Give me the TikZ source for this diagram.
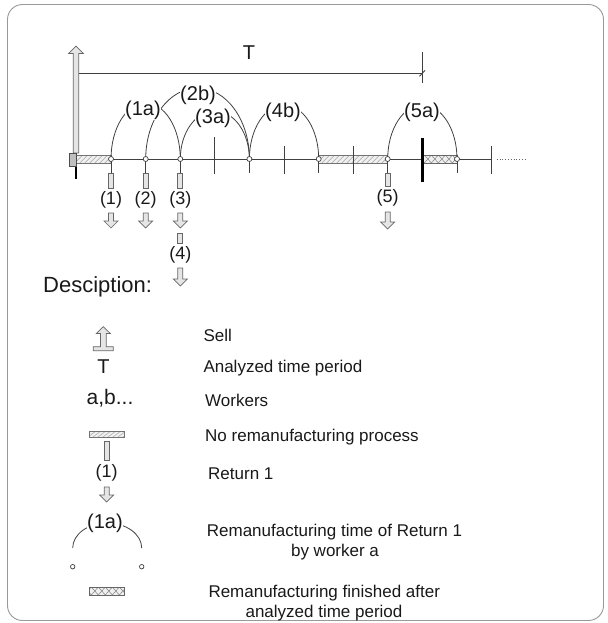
\documentclass[tikz,border=0pt]{standalone}
\usepackage{fontspec}
\setmainfont{Liberation Sans}
\newcommand\hatchbar[4]{%
  \fill[black!6] (#1,#2) rectangle (#3,#4);
  \begin{scope}\clip (#1,#2) rectangle (#3,#4);
    \foreach \k in {-12,-7,...,80} \draw[black!35,line width=0.5pt] ({#1+\k},#4) -- ++(8,{#2-#4});
  \end{scope}
  \draw[black!55,line width=0.6pt] (#1,#2) rectangle (#3,#4);}
\newcommand\xhatchbar[4]{%
  \fill[black!6] (#1,#2) rectangle (#3,#4);
  \begin{scope}\clip (#1,#2) rectangle (#3,#4);
    \foreach \k in {-12,-5,...,80} {\draw[black!50,line width=0.5pt] ({#1+\k},#4) -- ++(7,{#2-#4});
      \draw[black!50,line width=0.5pt] ({#1+\k},#2) -- ++(7,{#4-#2});}
  \end{scope}
  \draw[black!60,line width=0.6pt] (#1,#2) rectangle (#3,#4);}
\newcommand\hollowdown[3]{%
  \draw[hollow] ({#1-2.5},#2) -- ({#1+2.5},#2) -- ({#1+2.5},{#3-7}) -- ({#1+7},{#3-7}) -- (#1,#3) -- ({#1-7},{#3-7}) -- ({#1-2.5},{#3-7}) -- cycle;}
\newcommand\hollowshaft[3]{%
  \draw[hollow] ({#1-2.5},#2) rectangle ({#1+2.5},#3);}
\begin{document}
\begin{tikzpicture}[x=1pt,y=-1pt,
  hollow/.style={draw=black!60,fill=black!10,line width=0.7pt},
  tl/.style={draw=black!75,line width=0.8pt},
  arcline/.style={draw=black!75,line width=0.8pt},
  dot/.style={circle,draw=black!75,fill=white,inner sep=0pt,minimum size=5pt,line width=0.7pt},
  arclbl/.style={font=\fontsize{20}{24}\selectfont,fill=white,inner sep=0.3pt,text=black!90},
  retlbl/.style={font=\fontsize{18}{22}\selectfont,inner sep=0pt,text=black!90},
  lt/.style={font=\fontsize{17}{20}\selectfont,anchor=west,inner sep=0pt,text height=12.2pt,text depth=0pt,text=black!90},
  ltc/.style={lt,anchor=center}]
\useasboundingbox (0,0) rectangle (607,623);
% frame
\draw[black!40,line width=0.9pt,rounded corners=15pt] (7.5,4.5) rectangle (603.5,620.5);

% sell arrow (timeline)
\draw[hollow] (76,46) -- (83.3,53.5) -- (78.7,53.5) -- (78.7,153) -- (73.3,153) -- (73.3,53.5) -- (68.7,53.5) -- cycle;
% T dimension
\coordinate (tstart) at (78.7,73.3);
\coordinate (tend) at (422.3,73.3);
\draw[tl] (tstart) -- (tend);
\draw[tl] (422.3,51.7) -- (422.3,83.3);
\draw[tl] (419.5,76.3) -- (425.1,70.3);
\node[font=\fontsize{20}{24}\selectfont,text=black!90] (tlabel) at (249,53) {T};

% timeline
\draw[tl] (76.7,159) -- (491.3,159);
\draw[black!60,line width=0.8pt,dotted] (496.7,159) -- (525,159);
\hatchbar{76.7}{155}{111}{163}
\hatchbar{318.7}{155}{387.7}{163}
\xhatchbar{422.3}{155}{457}{163}
% box + black line
\draw[black!70,fill=black!25,line width=0.7pt] (69,153.3) rectangle (76.7,166.7);
\draw[black,line width=2pt] (76,166.7) -- (76,179.3);
% ticks
\draw[tl] (214.8,137) -- (214.8,174);
\foreach \x in {284.1,353.3,491.3} \draw[tl] (\x,146) -- (\x,174);
\foreach \x in {249.4,318.7,457} \draw[tl] (\x,159) -- (\x,173);
\foreach \x in {111,145.7,180.3,387.7} \draw[tl] (\x,159) -- (\x,173);
% end of T period
\draw[black,line width=2.5pt] (422.3,138) -- (422.3,181.7);

% arcs
\draw[arcline] (111,159) arc[start angle=180,end angle=360,x radius=34.65,y radius=56];
\draw[arcline] (145.7,159) arc[start angle=180,end angle=360,x radius=51.85,y radius=71];
\draw[arcline] (180.3,159) arc[start angle=180,end angle=360,x radius=34.55,y radius=48];
\draw[arcline] (249.4,159) arc[start angle=180,end angle=360,x radius=34.65,y radius=54];
\draw[arcline] (387.7,159) arc[start angle=180,end angle=360,x radius=34.65,y radius=54];
\node[arclbl] (l1a) at (143,110) {(1a)};
\node[arclbl] (l2b) at (198,95) {(2b)};
\node[arclbl] (l3a) at (213,118) {(3a)};
\node[arclbl] (l4b) at (283,112) {(4b)};
\node[arclbl] (l5a) at (422,112) {(5a)};
% circles
\node[dot] (c1) at (111,159) {};
\node[dot] (c2) at (145.7,159) {};
\node[dot] (c3) at (180.3,159) {};
\node[dot] (c4) at (249.4,159) {};
\node[dot] (c5) at (318.7,159) {};
\node[dot] (c6) at (387.7,159) {};
\node[dot] (c7) at (457,159) {};

% returns
\foreach \x/\n in {111/1,145.7/2,180.3/3} {
  \hollowshaft{\x}{173}{188}
  \node[retlbl] (r\n) at (\x,200) {(\n)};
  \hollowdown{\x}{213}{228}
}
\hollowshaft{180.3}{233}{243}
\node[retlbl] (r4) at (180.3,255) {(4)};
\hollowdown{180.3}{268}{286}
\hollowshaft{387.7}{173}{186}
\node[retlbl] (r5) at (387.7,198) {(5)};
\hollowdown{387.7}{212}{229}

% legend
\node[font=\fontsize{22}{26}\selectfont,anchor=west,inner sep=0pt,text=black!90] (desc) at (43,287) {Desciption:};
% sell symbol
\draw[hollow] (103.3,326.7) -- (110.3,333.5) -- (106.2,333.5) -- (106.2,346.7) -- (113.3,346.7) -- (113.3,350.7) -- (93.3,350.7) -- (93.3,346.7) -- (100.4,346.7) -- (100.4,333.5) -- (96.3,333.5) -- cycle;
\node[lt] (sell) at (203.3,335) {Sell};
\node[font=\fontsize{20}{24}\selectfont,text=black!90] (legT) at (103.5,367) {T};
\node[lt] (atp) at (203.3,366.7) {Analyzed time period};
\node[font=\fontsize{21}{24}\selectfont,text=black!90] (ab) at (110,398) {a,b...};
\node[lt] (workers) at (205,400) {Workers};
\hatchbar{89.3}{431.5}{124.3}{437.5}
\node[lt] (norem) at (205,435) {No remanufacturing process};
\hollowshaft{106.7}{441}{460}
\node[retlbl] (leg1) at (106.7,473) {(1)};
\hollowdown{106.7}{487}{502}
\node[lt] (ret1) at (208,473) {Return 1};
\draw[arcline] (72.7,548) arc[start angle=180,end angle=360,x radius=34.5,y radius=25];
\node[arclbl] (leg1a) at (105,523) {(1a)};
\node[dot,minimum size=4.5pt] (lc1) at (72.7,566.7) {};
\node[dot,minimum size=4.5pt] (lc2) at (141.7,566.7) {};
\node[lt] (rt1) at (206.7,530) {Remanufacturing time of Return 1};
\node[ltc] (rt2) at (335,550) {by worker a};
\xhatchbar{89.3}{587}{124.3}{595}
\node[lt] (rf1) at (208.3,591.7) {Remanufacturing finished after};
\node[ltc] (rf2) at (324,611.7) {analyzed time period};
\end{tikzpicture}
\end{document}
